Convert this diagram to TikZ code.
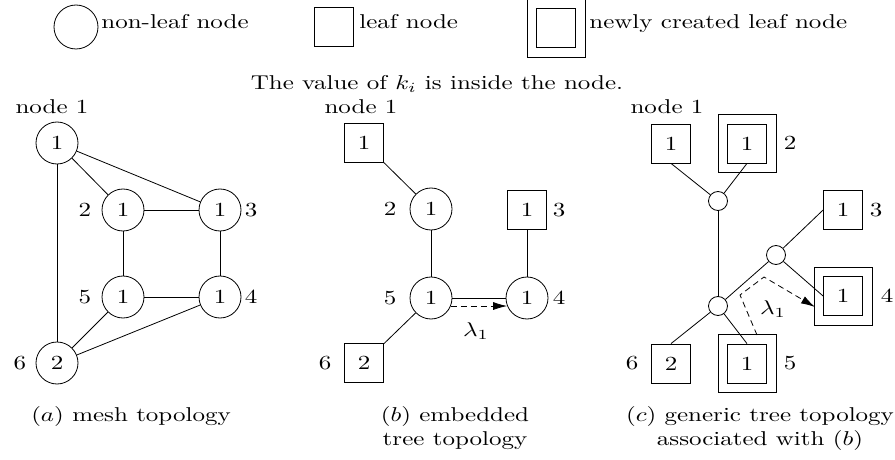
\documentclass[tikz,border=0pt]{standalone}
\usepackage{fontspec}
\setmainfont{lmroman10-regular}[Extension=.otf, FakeStretch=1.25]
\usepackage{graphicx}
\usetikzlibrary{arrows.meta,calc}
\newcommand{\hm}[1]{\scalebox{1.25}[1]{$#1$}}
\begin{document}
\begin{tikzpicture}[x=0.5pt,y=-0.5pt,
  circ/.style={circle,draw,minimum size=21pt,inner sep=0pt},
  leaf/.style={rectangle,draw,minimum size=19.5pt,inner sep=0pt},
  outerleaf/.style={rectangle,draw,minimum size=29pt,inner sep=0pt},
  small/.style={circle,draw,minimum size=9.5pt,inner sep=0pt},
  lbl/.style={inner sep=0pt},
  dsh/.style={dash pattern=on 3pt off 2pt},
  arr/.style={-{Latex[length=7pt,width=4pt]}}]
\useasboundingbox (0,0) rectangle (895,460);

% legend
\node[circle,draw,minimum size=22pt,inner sep=0pt] (lgc) at (76,27) {};
\node[lbl,anchor=base west] (lgct) at (101,29) {non-leaf node};
\node[leaf] (lgs) at (334,27) {};
\node[lbl,anchor=base west] (lgst) at (359,29) {leaf node};
\node[leaf] (lgd) at (556,28) {};
\node[outerleaf] (lgdo) at (556,28) {};
\node[lbl,anchor=base west] (lgdt) at (589,29) {newly created leaf node};
\node[lbl,anchor=base] (val) at (437,90) {The value of \hm{k_i} is inside the node.};

% panel a
\node[lbl,anchor=base] (a0) at (52,114) {node 1};
\node[circ] (a1) at (57,143) {1};
\node[circ] (a2) at (123,210) {1};
\node[circ] (a3) at (220,210) {1};
\node[circ] (a5) at (123,297) {1};
\node[circ] (a4) at (220,297) {1};
\node[circ] (a6) at (57,363) {2};
\node[lbl] (la2) at (85,210) {2};
\node[lbl] (la3) at (251,210) {3};
\node[lbl] (la5) at (85,297) {5};
\node[lbl] (la4) at (251,297) {4};
\node[lbl] (la6) at (20,363) {6};
\draw (a1) -- (a2);
\draw (a1) -- (a3);
\draw (a1) -- (a6);
\draw (a2) -- (a3);
\draw (a2) -- (a5);
\draw (a3) -- (a4);
\draw (a5) -- (a4);
\draw (a6) -- (a5);
\draw (a6) -- (a4);
\node[lbl,anchor=base] (capa) at (131,421) {\hm{(a)} mesh topology};

% panel b
\node[lbl,anchor=base] (b0) at (361,114) {node 1};
\node[leaf] (b1) at (364,143) {1};
\node[circ] (b2) at (431,209) {1};
\node[leaf] (b3) at (527,210) {1};
\node[circ] (b5) at (431,298) {1};
\node[circ] (b4) at (527,298) {1};
\node[leaf] (b6) at (364,363) {2};
\node[lbl] (lb2) at (390,209) {2};
\node[lbl] (lb3) at (559,210) {3};
\node[lbl] (lb5) at (390,298) {5};
\node[lbl] (lb4) at (559,298) {4};
\node[lbl] (lb6) at (325,363) {6};
\draw (b1) -- (b2);
\draw (b2) -- (b5);
\draw (b3) -- (b4);
\draw (b5) -- (b4);
\draw (b5) -- (b6);
\draw[dsh,arr] (b5.-22) -- (b4.-158);
\node[lbl] (lamb) at (476,331) {\hm{\lambda_1}};
\node[lbl,anchor=base] (capb1) at (455,421) {\hm{(b)} embedded};
\node[lbl,anchor=base] (capb2) at (455,445) {tree topology};

% panel c
\node[lbl,anchor=base] (c0) at (667,114) {node 1};
\node[leaf] (c1) at (671,143.5) {1};
\node[leaf] (c2) at (747,143.5) {1};
\node[outerleaf] (c2o) at (747,143.5) {};
\node[small] (ct) at (718,201) {};
\node[leaf] (c3) at (843,210) {1};
\node[small] (cm) at (776,255) {};
\node[leaf] (c4) at (843,296) {1};
\node[outerleaf] (c4o) at (843,296) {};
\node[small] (cb) at (718,306) {};
\node[leaf] (c6) at (671,363.5) {2};
\node[leaf] (c5) at (747,363.5) {1};
\node[outerleaf] (c5o) at (747,363.5) {};
\node[lbl] (lc2) at (790,143) {2};
\node[lbl] (lc3) at (876,210) {3};
\node[lbl] (lc4) at (887,296) {4};
\node[lbl] (lc5) at (790,363) {5};
\node[lbl] (lc6) at (632,363) {6};
\draw (c1.south) -- (ct);
\draw (c2.south) -- (ct);
\draw (ct) -- (cb);
\draw (cb) -- (cm);
\draw (cm) -- (c3.west);
\draw (cm) -- (c4.west);
\draw (cb) -- (c6.north);
\draw (cb) -- (c5.north);
\coordinate (d0) at (757,335);
\coordinate (d1) at (740,295);
\coordinate (d2) at (764,277);
\coordinate (d3) at (815,307);
\draw[dsh,arr] (d0) -- (d1) -- (d2) -- (d3);
\node[lbl] (lamc) at (773,309) {\hm{\lambda_1}};
\node[lbl,anchor=base] (capc1) at (760,421) {\hm{(c)} generic tree topology};
\node[lbl,anchor=base] (capc2) at (760,445) {associated with \hm{(b)}};
\end{tikzpicture}
\end{document}
